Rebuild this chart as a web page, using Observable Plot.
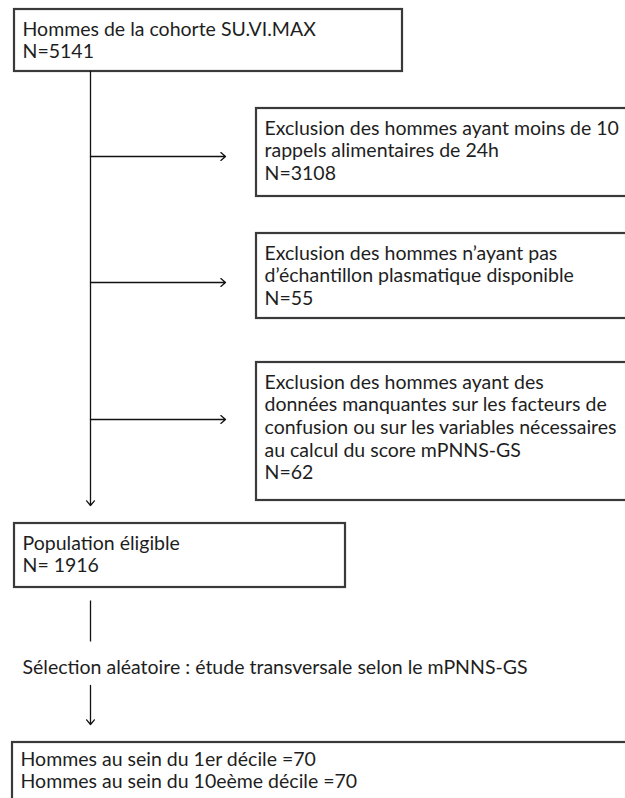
<!DOCTYPE html>
<html>
<head>
<meta charset="utf-8">
<script src="https://cdn.jsdelivr.net/npm/d3@7"></script>
<script src="https://cdn.jsdelivr.net/npm/@observablehq/plot@0.6"></script>
<style>
  html, body { margin: 0; padding: 0; background: #fff; overflow: hidden; }
  #chart { width: 625px; height: 798px; }
</style>
</head>
<body>
<div id="chart"></div>
<script>
// ---- data ----
const mainSteps = ["Hommes de la cohorte SU.VI.MAX", "Population éligible"];
const mainCounts = ["N=5141", "N= 1916"];
const exclusionReasons = [
  ["Exclusion des hommes ayant moins de 10", "rappels alimentaires de 24h"],
  ["Exclusion des hommes n’ayant pas", "d’échantillon plasmatique disponible"],
  ["Exclusion des hommes ayant des", "données manquantes sur les facteurs de", "confusion ou sur les variables nécessaires", "au calcul du score mPNNS-GS"]
];
const exclusionCounts = ["N=3108", "N=55", "N=62"];
const selectionLabel = "Sélection aléatoire : étude transversale selon le mPNNS-GS";
const finalGroups = ["Hommes au sein du 1er décile =70", "Hommes au sein du 10eème décile =70"];

// ---- layout (positions in pixel units of the figure) ----
const W = 625, H = 798;
const padX = 8, firstLine = 20, lineGap = 22.6;
const trunkX = 90;
const boxTop = {x1: 14, x2: 402, y1: 9, y2: 71};
const boxElig = {x1: 14, x2: 345, y1: 523, y2: 587};
const boxExcl = [
  {x1: 256, x2: 640, y1: 108, y2: 196, arrowY: 156},
  {x1: 256, x2: 640, y1: 233, y2: 318, arrowY: 282},
  {x1: 256, x2: 640, y1: 362, y2: 500, arrowY: 419}
];
const boxFinal = {x1: 12, x2: 640, y1: 742, y2: 810};
const selectionY = 667, selectionX = 22;

// build tables
const boxes = [
  {...boxTop, lines: [mainSteps[0], mainCounts[0]]},
  ...boxExcl.map((b, i) => ({...b, lines: [...exclusionReasons[i], exclusionCounts[i]]})),
  {...boxElig, lines: [mainSteps[1], mainCounts[1]]},
  {...boxFinal, lines: finalGroups, off: 17}
];
const textRows = boxes.flatMap(b => b.lines.map((t, j) => ({
  x: b.x1 + padX, y: b.y1 + (b.off ?? firstLine) + j * lineGap, text: t
})));
textRows.push({x: selectionX, y: selectionY, text: selectionLabel});

const arrows = [
  {x1: trunkX, y1: boxTop.y2, x2: trunkX, y2: 505},
  ...boxExcl.map(b => ({x1: trunkX, y1: b.arrowY, x2: 225, y2: b.arrowY})),
  {x1: trunkX, y1: 685, x2: trunkX, y2: 724}
];
const plainLinks = [{x1: trunkX, y1: 600, x2: trunkX, y2: 641}];

const plot = Plot.plot({
  width: W, height: H,
  margin: 0,
  x: {domain: [0, W], range: [0, W], axis: null},
  y: {domain: [0, H], range: [0, H], axis: null},
  style: {fontFamily: "Lato, 'Open Sans', sans-serif", fontSize: "19.5px", background: "#fff", color: "#1e1e1e"},
  marks: [
    Plot.rect(boxes, {x1: "x1", x2: "x2", y1: "y1", y2: "y2", fill: "#fff", stroke: "#3a3a3a", strokeWidth: 2.2}),
    Plot.arrow(arrows, {x1: "x1", y1: "y1", x2: "x2", y2: "y2", stroke: "#111", strokeWidth: 1.3, headLength: 7, headAngle: 80}),
    Plot.link(plainLinks, {x1: "x1", y1: "y1", x2: "x2", y2: "y2", stroke: "#111", strokeWidth: 1.3}),
    Plot.text(textRows, {x: "x", y: "y", text: "text", textAnchor: "start", lineAnchor: "middle", fill: "#1e1e1e"})
  ]
});
document.getElementById("chart").appendChild(plot);
</script>
</body>
</html>
